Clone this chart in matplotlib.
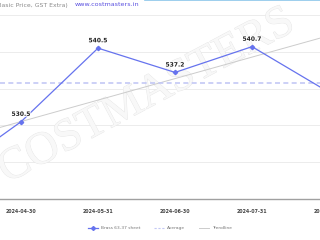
import numpy as np
import matplotlib
matplotlib.use("Agg")
import matplotlib.pyplot as plt
import matplotlib.patheffects as pe

# values (the chart is cropped on both sides)
dates = ['2024-03-31', '2024-04-30', '2024-05-31', '2024-06-30', '2024-07-31', '2024-08-31']
prices = [523.0, 530.5, 540.5, 537.2, 540.7, 534.5]
labelled = [1, 2, 3, 4]          # points whose value label is visible
average = 535.7
trend_ends = [527.6, 542.2]      # trendline value at first and last date
y_grid = [520, 525, 530, 535, 540, 545]

blue = '#6673ee'

fig = plt.figure(figsize=(3.2, 2.4), dpi=100)
ax = fig.add_axes([0, 41 / 240, 1, 199 / 240])

x = np.arange(len(dates))

# watermark, behind the data
ax.text(0.46, 0.60, 'COSTMASTERS', fontsize=33, family='Liberation Serif',
        color='#f8f8f8', rotation=28, ha='center', va='center', zorder=1,
        transform=fig.transFigure, clip_on=False,
        path_effects=[pe.withStroke(linewidth=0.6, foreground='#e6e6e6')])

ax.plot([x[0], x[-1]], trend_ends, color='#cccccc', lw=0.7, zorder=2)
ax.axhline(average, color='#c3c8f5', lw=1.2, dashes=(3, 2), zorder=2)
ax.plot(x, prices, color=blue, lw=0.9, marker='D', ms=2.2, zorder=3)

for i in labelled:
    ax.annotate(f'{prices[i]:.1f}', (x[i], prices[i]), xytext=(0, 3.5),
                textcoords='offset points', ha='center', va='bottom',
                fontsize=4.3, fontweight='bold', color='#222222', zorder=4,
                path_effects=[pe.withStroke(linewidth=1.2, foreground='white')])

ax.set_yticks(y_grid)
ax.grid(axis='y', color='#ececec', lw=0.7)
ax.set_axisbelow(True)
ax.set_xticks(x)
ax.set_xticklabels(dates, fontsize=3.4, color='#444444', fontweight='bold')
ax.set_xlim(0.727, 4.883)
ax.set_ylim(520, 547.04)
ax.tick_params(axis='x', length=0, pad=7)
ax.tick_params(axis='y', length=0, labelleft=False)
for s in ['top', 'left', 'right']:
    ax.spines[s].set_visible(False)
ax.spines['bottom'].set_color('#a0a0a0')
ax.spines['bottom'].set_linewidth(1.0)
ax.patch.set_alpha(0)

# last date label sits past the crop edge, so draw it by hand
ax.annotate(dates[-1], (x[-1], 0), xycoords=ax.get_xaxis_transform(),
            xytext=(0, -7), textcoords='offset points', ha='center', va='top',
            fontsize=3.4, color='#444444', fontweight='bold', annotation_clip=False)

# cropped title
fig.text(68 / 320, 1 - 5 / 240, '(Basic Price, GST Extra)', fontsize=4.4,
         color='#8a8a8a', ha='right', va='center')
fig.text(75 / 320, 1 - 5 / 240, 'www.costmasters.in', fontsize=4.6,
         color='#5a50e0', ha='left', va='center')
fig.add_artist(plt.Line2D([145 / 320, 1], [0.998, 0.998], color='#8cc6ea',
                          lw=1.2, transform=fig.transFigure))

handles = [
    plt.Line2D([], [], color=blue, lw=0.9, marker='D', ms=2),
    plt.Line2D([], [], color='#c3c8f5', lw=0.8, dashes=(2, 1.5)),
    plt.Line2D([], [], color='#cccccc', lw=0.7),
]
fig.legend(handles, ['Brass 63-37 sheet', 'Average', 'Trendline'],
           loc='center', bbox_to_anchor=(0.5, 1 - 228 / 240), ncol=3,
           frameon=False, fontsize=3.2, handlelength=2.2, columnspacing=3,
           handletextpad=0.8, labelcolor='#777777')

fig.savefig('out.png', dpi=100)
